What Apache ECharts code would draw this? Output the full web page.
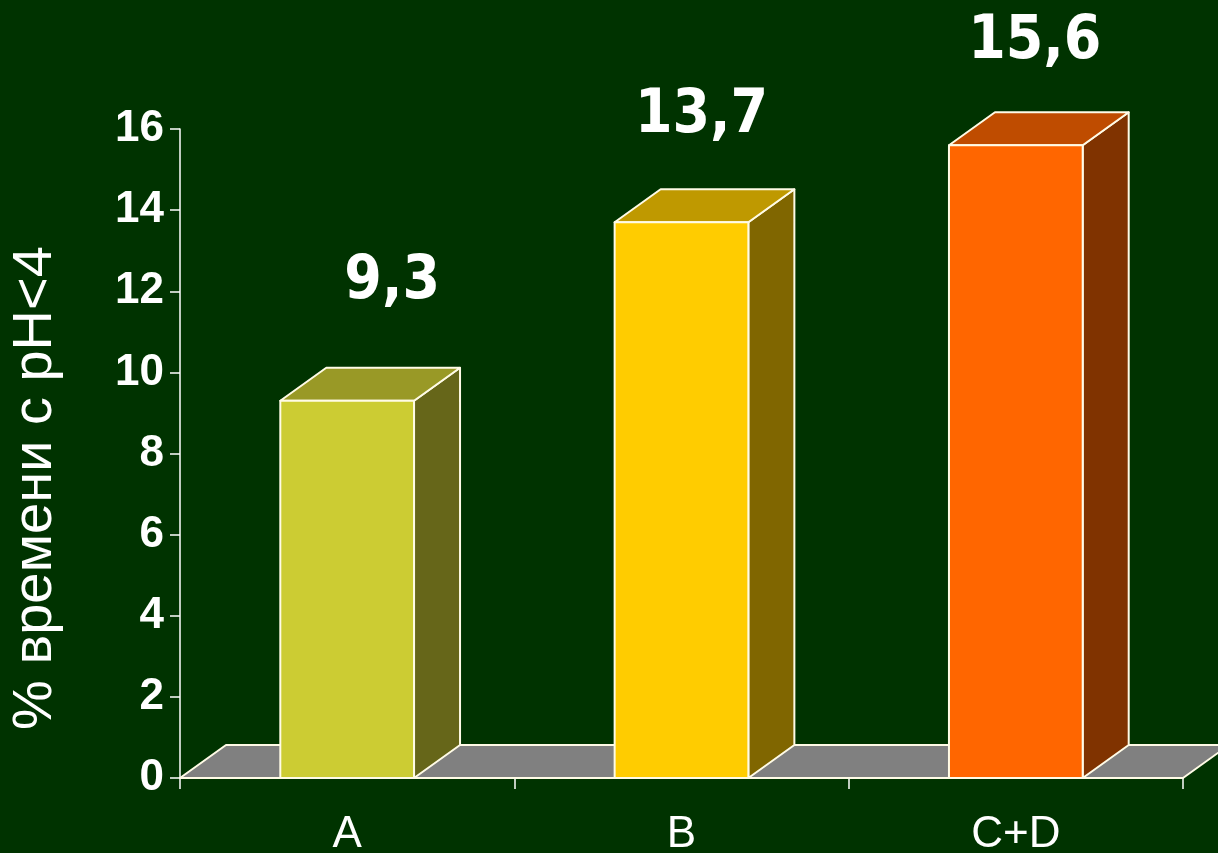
<!DOCTYPE html>
<html>
<head>
<meta charset="utf-8">
<script src="https://cdn.jsdelivr.net/npm/echarts@6/dist/echarts.min.js"></script>
<style>
  html, body { margin: 0; padding: 0; background: #003300; }
  #chart { width: 1218px; height: 853px; }
</style>
</head>
<body>
<div id="chart"></div>
<script>
// Groups on the horizontal axis and their measured share of time with pH<4
const categories = ['A', 'B', 'C+D'];
const values = [9.3, 13.7, 15.6];
const yTicks = { min: 0, max: 16, step: 2 };
const axisTitle = '% времени с рН<4';

// Face colours per bar: front, top (lit), side (shaded)
const palette = [
  { front: '#cccc33', top: '#999926', side: '#666619' },
  { front: '#ffcc00', top: '#bf9900', side: '#806600' },
  { front: '#ff6600', top: '#bf4c00', side: '#803300' }
];

// 3D look: depth offset of the back face, in pixels
const DEPTH_X = 46;
const DEPTH_Y = -33;
const EDGE = '#fffbe6';
// fine placement of the value captions relative to the bar's top front corner
const captionNudge = [[45, -118], [20, -106], [19, -103]];

const chart = echarts.init(document.getElementById('chart'));

function renderFloor(params, api) {
  const cs = params.coordSys;
  const y0 = cs.y + cs.height;
  const x0 = cs.x, x1 = cs.x + cs.width;
  return {
    type: 'polygon',
    shape: { points: [[x0, y0], [x1, y0], [x1 + DEPTH_X, y0 + DEPTH_Y], [x0 + DEPTH_X, y0 + DEPTH_Y]] },
    style: { fill: '#808080', stroke: EDGE, lineWidth: 2, lineJoin: 'round' }
  };
}

function renderBar(params, api) {
  const i = api.value(0);
  const v = api.value(1);
  const top = api.coord([i, v]);
  const base = api.coord([i, 0]);
  const hw = api.size([1, 0])[0] * 0.4 / 2;
  const cx = top[0], yt = top[1], yb = base[1];
  const c = palette[i];
  const edge = { stroke: EDGE, lineWidth: 2, lineJoin: 'round' };
  const nudge = captionNudge[i];
  return {
    type: 'group',
    children: [
      {
        type: 'polygon',
        shape: { points: [[cx + hw, yt], [cx + hw + DEPTH_X, yt + DEPTH_Y], [cx + hw + DEPTH_X, yb + DEPTH_Y], [cx + hw, yb]] },
        style: Object.assign({ fill: c.side }, edge)
      },
      {
        type: 'polygon',
        shape: { points: [[cx - hw, yt], [cx + hw, yt], [cx + hw + DEPTH_X, yt + DEPTH_Y], [cx - hw + DEPTH_X, yt + DEPTH_Y]] },
        style: Object.assign({ fill: c.top }, edge)
      },
      {
        type: 'rect',
        shape: { x: cx - hw, y: yt, width: hw * 2, height: yb - yt },
        style: Object.assign({ fill: c.front }, edge)
      },
      {
        type: 'text',
        x: cx + nudge[0],
        y: yt + nudge[1],
        style: {
          text: String(values[i]).replace('.', ','),
          fill: '#ffffff',
          font: 'bold 60px "DejaVu Sans Condensed", "DejaVu Sans", sans-serif',
          align: 'center',
          verticalAlign: 'middle'
        }
      }
    ]
  };
}

chart.setOption({
  backgroundColor: '#003300',
  animation: false,
  grid: { left: 180, right: 35, top: 129, bottom: 75, containLabel: false, outerBoundsMode: 'none' },
  xAxis: {
    type: 'category',
    data: categories,
    boundaryGap: true,
    axisLine: { show: true, lineStyle: { color: '#ffffff', width: 1.5 } },
    axisTick: { show: true, alignWithLabel: false, length: 11, lineStyle: { color: '#ffffff', width: 1.5 } },
    axisLabel: { color: '#ffffff', fontSize: 44, fontFamily: 'Liberation Sans, Arial, sans-serif', margin: 35 },
    splitLine: { show: false }
  },
  yAxis: {
    type: 'value',
    min: yTicks.min,
    max: yTicks.max,
    interval: yTicks.step,
    axisLine: { show: true, lineStyle: { color: '#ffffff', width: 1.5 } },
    axisTick: { show: true, length: 10, lineStyle: { color: '#ffffff', width: 1.5 } },
    axisLabel: { color: '#ffffff', fontSize: 44, fontWeight: 'bold', fontFamily: 'Liberation Sans, Arial, sans-serif', margin: 16 },
    splitLine: { show: false }
  },
  graphic: [{
    type: 'text',
    x: 36,
    y: 488,
    rotation: Math.PI / 2,
    style: {
      text: axisTitle,
      fill: '#ffffff',
      font: '56px "Liberation Sans", Arial, sans-serif',
      align: 'center',
      verticalAlign: 'middle'
    }
  }],
  series: [
    {
      type: 'custom',
      renderItem: renderFloor,
      data: [[0, 0]],
      z: 1,
      silent: true
    },
    {
      type: 'custom',
      renderItem: renderBar,
      data: values.map((v, i) => [i, v]),
      z: 2,
      clip: false
    }
  ]
});
</script>
</body>
</html>
